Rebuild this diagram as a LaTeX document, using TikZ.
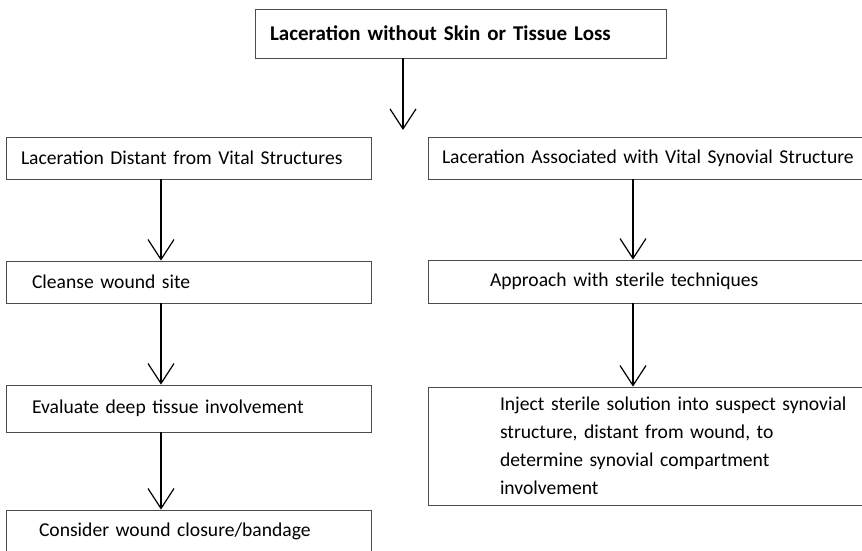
\documentclass[tikz,border=0pt]{standalone}
\usepackage{fontspec}
\setmainfont{Carlito}
\usetikzlibrary{arrows.meta}

\tikzset{
  stepbox/.style={draw=black!70, line width=0.8pt, align=left, inner ysep=0pt,
    font=\fontsize{19.6}{28}\selectfont},
  flow/.style={line width=1.5pt, -{Straight Barb[length=20pt,width=26pt,line width=1.2pt]}},
}

\begin{document}
\begin{tikzpicture}[x=1pt,y=-1pt]
\useasboundingbox (0,0) rectangle (862,550);
\clip (0,0) rectangle (862,550);
% Titol
\node[stepbox, minimum height=49pt, text width=381pt, inner xsep=15pt,
  font=\fontsize{21}{24}\selectfont\bfseries] (title) at (460.5,33.5)
  {Laceration without Skin or Tissue Loss};
% Branca esquerra
\node[stepbox, minimum height=42pt, text width=335pt, inner xsep=15pt] (dist) at (188.5,158)
  {Laceration Distant from Vital Structures};
\node[stepbox, minimum height=42pt, text width=313pt, inner xsep=26pt] (clean) at (188.5,282)
  {Cleanse wound site};
\node[stepbox, minimum height=47pt, text width=313pt, inner xsep=26pt] (deep) at (188.5,408.5)
  {Evaluate deep tissue involvement};
\node[stepbox, minimum height=42pt, text width=299pt, inner xsep=33pt] (close) at (188.5,531)
  {Consider wound closure/bandage};
% Branca dreta
\node[stepbox, minimum height=42pt, text width=484pt, inner xsep=14pt] (assoc) at (684,158)
  {Laceration Associated with Vital Synovial Structure};
\node[stepbox, minimum height=43pt, text width=388pt, inner xsep=62pt] (sterile) at (684,281.5)
  {Approach with sterile techniques};
\node[stepbox, minimum height=118pt, text width=368pt, inner xsep=72pt] (inject) at (684,446)
  {Inject sterile solution into suspect synovial\\
   structure, distant from wound, to\\
   determine synovial compartment\\
   involvement};
% Fletxes
\coordinate (split) at (403,130);
\coordinate (colL) at (161,0);
\coordinate (colR) at (633,0);
\draw[flow] (title.south -| split) -- (split);
\draw[flow] (dist.south -| colL) -- (clean.north -| colL);
\draw[flow] (clean.south -| colL) -- (deep.north -| colL);
\draw[flow] (deep.south -| colL) -- (close.north -| colL);
\draw[flow] (assoc.south -| colR) -- (sterile.north -| colR);
\draw[flow] (sterile.south -| colR) -- (inject.north -| colR);
\end{tikzpicture}
\end{document}
